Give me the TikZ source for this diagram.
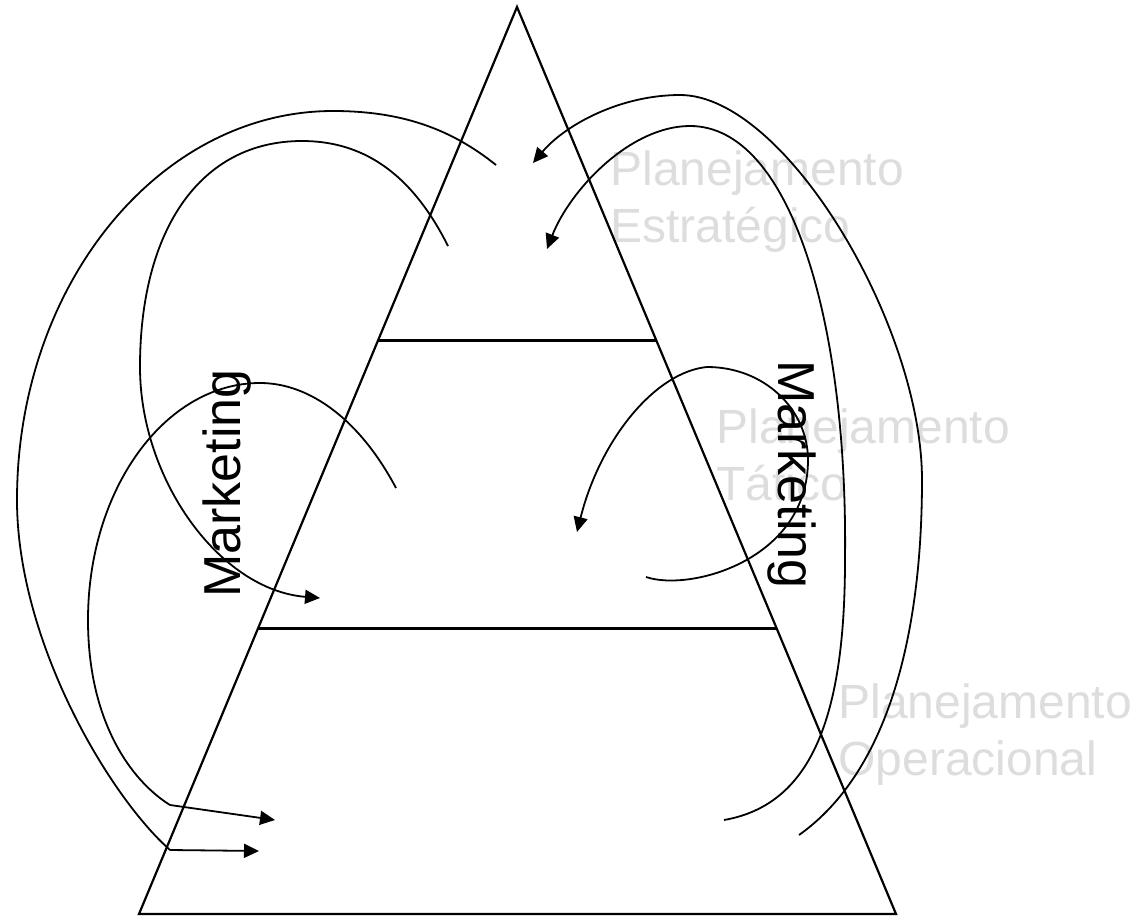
\documentclass[tikz,border=0pt]{standalone}
\usepackage{fontspec}
\setmainfont{Liberation Sans}
\usepackage{tikz}
\usetikzlibrary{arrows.meta, calc}
\definecolor{plangray}{RGB}{221,221,221}
\tikzstyle{tri} = [line width=1.1pt]
\tikzstyle{band} = [line width=1.5pt]
\tikzstyle{swirl} = [line width=0.9pt]
\tikzstyle{swirlarrow} = [swirl, -{Triangle[length=7.5pt, width=7pt]}]
\tikzstyle{planlabel} = [text=plangray, font=\fontsize{24}{28.5}\selectfont,
  align=left, anchor=north west, inner sep=0pt]
\tikzstyle{mktlabel} = [font=\fontsize{26}{30}\selectfont, anchor=base west, inner sep=0pt]

\begin{document}
\begin{tikzpicture}[x=0.5pt, y=-0.5pt]
    \useasboundingbox (0,0) rectangle (1137,916);
    % levels
    \node[planlabel] (estr) at (610,150) {Planejamento\\Estratégico};
    \node[planlabel] (tat) at (716,408) {Planejamento\\Tático};
    \node[planlabel] (oper) at (838,683) {Planejamento\\Operacional};
    % pyramid
    \coordinate (apex) at (517,7);
    \coordinate (bl) at (139,914);
    \coordinate (br) at (896,914);
    \draw[tri] (bl) -- (apex) -- (br) -- cycle;
    \draw[band] ($(apex)!0.368!(bl)$) -- ($(apex)!0.368!(br)$);
    \draw[band] ($(apex)!0.685!(bl)$) -- ($(apex)!0.685!(br)$);
    % left loops
    \coordinate (a1) at (170,850);
    \coordinate (a2) at (259,851);
    \coordinate (b1) at (170,805);
    \coordinate (b2) at (275,820);
    \draw[swirl] (496,165) .. controls (450,128) and (400,111) .. (333,111)
      .. controls (159,111) and (17,285) .. (17,500)
      .. controls (17,640) and (108,795) .. (a1);
    \draw[swirlarrow] (a1) -- (a2);
    \draw[swirl] (396,488) .. controls (360,420) and (310,383) .. (260,383)
      .. controls (165,383) and (88,489) .. (88,620)
      .. controls (88,720) and (130,780) .. (b1);
    \draw[swirlarrow] (b1) -- (b2);
    \draw[swirlarrow] (448,246) .. controls (410,170) and (360,141) .. (302,141)
      .. controls (200,141) and (140,230) .. (140,367)
      .. controls (140,480) and (220,590) .. (320,598);
    % right loops
    \draw[swirlarrow] (799,835) .. controls (888,772) and (922,635) .. (922,480)
      .. controls (922,325) and (785,95) .. (680,95)
      .. controls (620,95) and (565,125) .. (533,163);
    \draw[swirlarrow] (724,820) .. controls (810,805) and (845,720) .. (845,560)
      .. controls (848,320) and (790,126) .. (690,126)
      .. controls (630,126) and (570,190) .. (547,249);
    \draw[swirlarrow] (646,577) .. controls (690,592) and (808,560) .. (808,460)
      .. controls (808,410) and (765,367) .. (707,367)
      .. controls (655,372) and (600,440) .. (577,532);
    % marketing
    \node[mktlabel, rotate=90] (mktl) at (240,598) {Marketing};
    \node[mktlabel, rotate=-90] (mktr) at (778,360) {Marketing};
  \end{tikzpicture}
\end{document}
